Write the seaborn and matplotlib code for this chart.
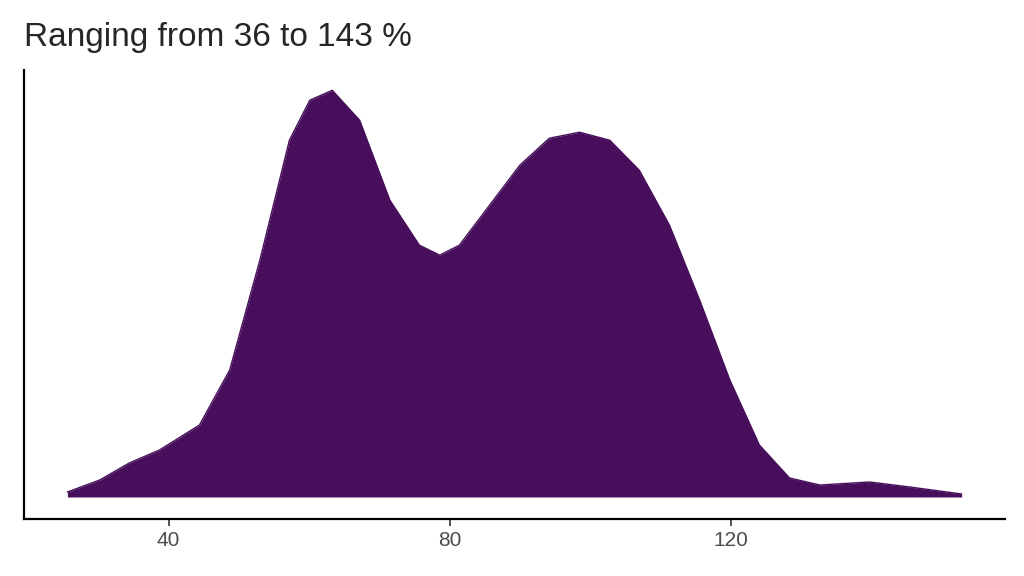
import matplotlib
matplotlib.use("Agg")
import matplotlib.pyplot as plt
import seaborn as sns
import pandas as pd

sns.set_theme(style="ticks")
plt.rcParams['font.family'] = ['Liberation Sans', 'DejaVu Sans']

value = [25.6, 30.2, 34.4, 38.7, 44.4, 48.7, 53.0, 57.2, 60.1, 63.3, 67.2, 71.5, 75.7, 78.6, 81.4,
         85.7, 90.0, 94.2, 98.5, 102.8, 107.0, 111.3, 115.6, 119.9, 124.1, 128.4, 132.7, 139.8, 145.5, 152.9]
density = [5, 17, 34, 47, 72, 127, 237, 357, 397, 407, 377, 297, 252, 242, 252,
           292, 332, 359, 365, 357, 327, 272, 197, 117, 52, 19, 12, 15, 10, 3]
xticks = [40, 80, 120]
title = "Ranging from 36 to 143 %"

df = pd.DataFrame({"value": value, "density": density})
fig = plt.figure(figsize=(10.24, 5.76), dpi=100)
ax = fig.add_axes([0.023, 0.099, 0.958, 0.779])
sns.lineplot(data=df, x="value", y="density", ax=ax, color="#470f5b", lw=1)
ax.fill_between(df["value"], 0, df["density"], color="#470f5b", lw=0)
ax.set_xlim(19.36, 159.0)
ax.set_ylim(-22, 427)
ax.set_xticks(xticks)
ax.set_xticklabels([str(t) for t in xticks], fontsize=15, color="#4d4d4d")
ax.set_yticks([])
ax.set_xlabel("")
ax.set_ylabel("")
for s in ["top", "right"]:
    ax.spines[s].set_visible(False)
for s in ["left", "bottom"]:
    ax.spines[s].set_linewidth(1.6)
    ax.spines[s].set_color("black")
ax.tick_params(axis="x", length=5, width=1.2, color="#333333")
fig.text(0.023, 0.92, title, fontsize=24, ha="left", va="baseline")
fig.savefig("out.png", dpi=100)
